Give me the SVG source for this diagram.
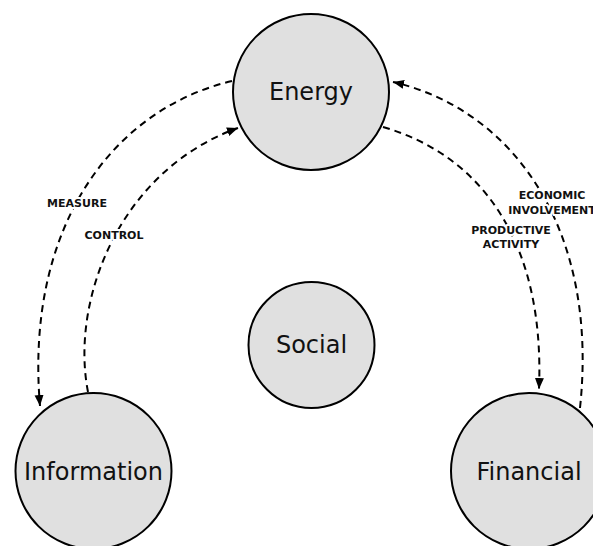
<svg xmlns="http://www.w3.org/2000/svg" width="593" height="546" viewBox="0 0 593 546">
  <style>
    .node { fill: #e0e0e0; stroke: #000; stroke-width: 2; }
    .ntext { font-family: "DejaVu Sans", sans-serif; font-size: 24px; fill: #111; text-anchor: middle; }
    .conn { fill: none; stroke: #000; stroke-width: 2; stroke-dasharray: 7 5; }
    .lbl { font-family: "DejaVu Sans", sans-serif; font-size: 11px; font-weight: bold; fill: #111; text-anchor: middle; stroke: #fff; stroke-width: 4; paint-order: stroke; stroke-linejoin: round; }
  </style>
  <defs>
    <marker id="arrow" markerUnits="userSpaceOnUse" markerWidth="12" markerHeight="10" refX="11" refY="4.5" orient="auto">
      <path d="M0,0 L11,4.5 L0,9 Z" fill="#000"/>
    </marker>
  </defs>
  <rect width="593" height="546" fill="#fff"/>
  <g id="node-energy">
    <circle class="node" cx="311" cy="92" r="78"/>
    <text class="ntext" x="311" y="100">Energy</text>
  </g>
  <g id="node-social">
    <circle class="node" cx="311.5" cy="345" r="63"/>
    <text class="ntext" x="311.5" y="353">Social</text>
  </g>
  <g id="node-information">
    <circle class="node" cx="93.5" cy="471" r="78"/>
    <text class="ntext" x="93.5" y="480">Information</text>
  </g>
  <g id="node-financial">
    <circle class="node" cx="529" cy="471" r="78"/>
    <text class="ntext" x="529" y="480">Financial</text>
  </g>
  <g id="connectors">
    <path id="measure" class="conn" d="M232,81 C110,110 25,230 40,406" marker-end="url(#arrow)"/>
    <path id="control" class="conn" d="M88,392 C70,300 120,170 238,128" marker-end="url(#arrow)"/>
    <path id="economic" class="conn" d="M580,408 C599,230 514,110 393,82" marker-end="url(#arrow)"/>
    <path id="productive" class="conn" d="M383,127 C480,155 545,240 539,389" marker-end="url(#arrow)"/>
  </g>
  <g id="labels">
    <text class="lbl" x="77" y="207">MEASURE</text>
    <text class="lbl" x="114" y="239">CONTROL</text>
    <text class="lbl" x="552" y="199">ECONOMIC</text>
    <text class="lbl" x="552" y="214">INVOLVEMENT</text>
    <text class="lbl" x="511" y="234">PRODUCTIVE</text>
    <text class="lbl" x="511" y="248">ACTIVITY</text>
  </g>
</svg>
